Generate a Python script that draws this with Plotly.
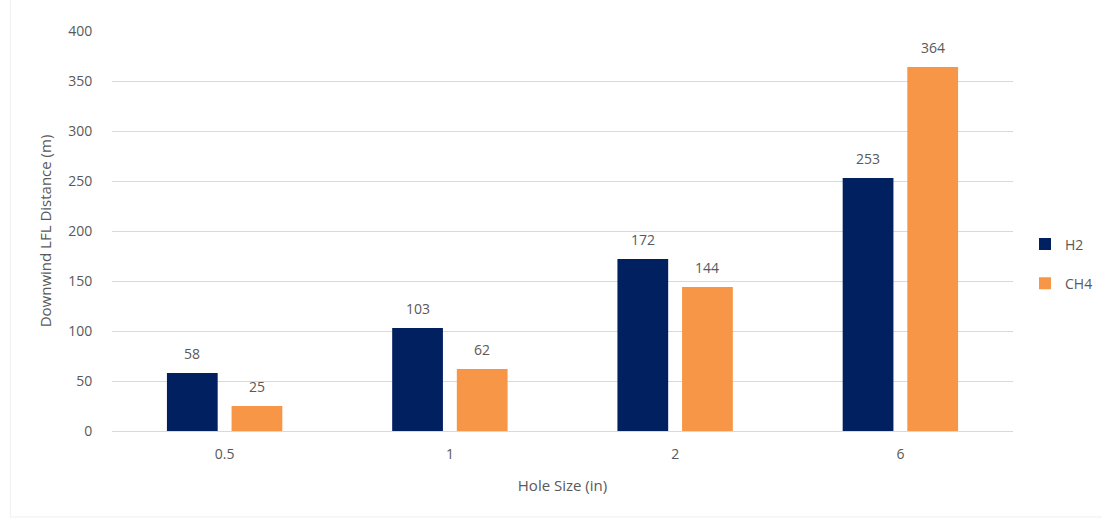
import plotly.graph_objects as go

categories = ["0.5", "1", "2", "6"]
h2_values = [58, 103, 172, 253]
ch4_values = [25, 62, 144, 364]
series_names = ["H2", "CH4"]
y_ticks = [0, 50, 100, 150, 200, 250, 300, 350, 400]

FONT = "Open Sans, Segoe UI, sans-serif"
GRAY = "#595959"
colors = ["#002060", "#F79646"]
BARGAP = 0.426
BARGROUPGAP = 0.215

fig = go.Figure()
for name, vals, col, grp in zip(series_names, [h2_values, ch4_values], colors, ["a", "b"]):
    fig.add_trace(go.Bar(
        name=name, x=categories, y=vals, marker=dict(color=col, line=dict(width=0)),
        legendgroup=grp,
    ))

# data labels, placed at each bar's slot centre
slot = (1 - BARGAP) / 2
for si, vals in enumerate([h2_values, ch4_values]):
    off = (si - 0.5) * slot
    for ci, v in enumerate(vals):
        fig.add_annotation(x=ci + off, y=v, xref="x", yref="y", text=str(v),
                           showarrow=False, yanchor="middle", yshift=20,
                           font=dict(family=FONT, size=14, color=GRAY))

W, H = 1102, 521
ml, mr, mt, mb = 112, 86, 31, 90
pw = W - ml - mr
ph = H - mt - mb

fig.update_layout(
    width=W, height=H,
    margin=dict(l=ml, r=mr, t=mt, b=mb),
    paper_bgcolor="white", plot_bgcolor="white",
    barmode="group", bargap=BARGAP, bargroupgap=BARGROUPGAP,
    font=dict(family=FONT, color=GRAY, size=14),
    showlegend=True,
    legend=dict(xref="container", yref="paper", x=1025 / W, y=(431 - 264) / ph,
                xanchor="left", yanchor="middle",
                font=dict(family=FONT, size=14, color=GRAY),
                tracegroupgap=18, itemwidth=30, bgcolor="rgba(0,0,0,0)"),
    xaxis=dict(title=dict(text="Hole Size (in)", font=dict(size=15, color=GRAY), standoff=18),
               tickfont=dict(size=14, color=GRAY), showgrid=False, showline=False,
               ticks="outside", ticklen=10, tickcolor="rgba(0,0,0,0)"),
    yaxis=dict(title=dict(text="Downwind LFL Distance (m)", font=dict(size=15, color=GRAY), standoff=12),
               range=[0, 400], tickvals=y_ticks, tickfont=dict(size=14, color=GRAY),
               showgrid=True, gridcolor="#D9D9D9", gridwidth=1,
               zeroline=True, zerolinecolor="#D9D9D9", zerolinewidth=1,
               showline=False, ticks="outside", ticklen=16, tickcolor="rgba(0,0,0,0)"),
)

# faint chart-area border (left and bottom edges visible)
fig.add_shape(type="rect", xref="paper", yref="paper",
              x0=(10 - ml) / pw, x1=(1110 - ml) / pw,
              y0=-(517 - mt - ph) / ph, y1=1 + (mt + 10) / ph,
              line=dict(color="#EFEFEF", width=1), layer="below")

fig.write_html("out.html", config={"displayModeBar": False},
               post_script="document.body.style.margin='0px';")
